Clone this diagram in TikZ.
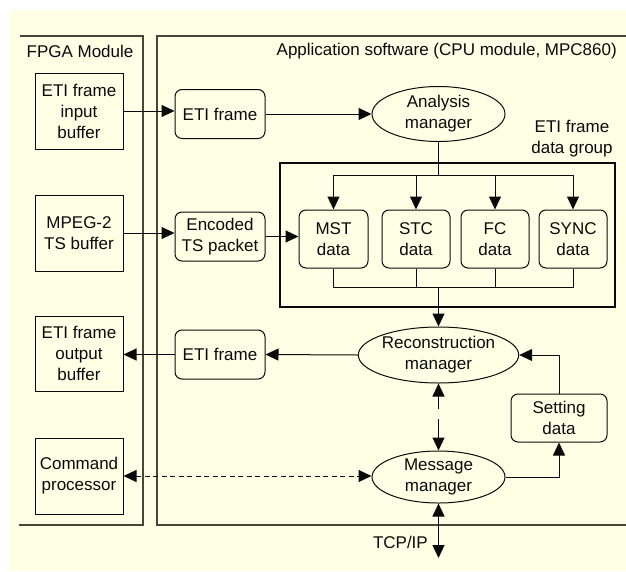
\documentclass[tikz,border=0pt]{standalone}
\usepackage{fontspec}
\setmainfont{Liberation Sans}
\usetikzlibrary{arrows.meta,shapes.geometric}
\definecolor{bgc}{RGB}{255,255,229}
\definecolor{panelc}{RGB}{70,70,58}
\definecolor{ink}{RGB}{10,10,10}
\tikzset{
  txt/.style={font=\fontsize{17}{21}\selectfont, text=ink, align=center, inner sep=0pt},
  sqbox/.style={txt, draw=ink, line width=1pt, minimum width=88pt, minimum height=76pt},
  rbox/.style={txt, draw=ink, line width=1pt, rounded corners=7pt},
  ell/.style={txt, draw=ink, line width=1pt, ellipse, minimum width=133pt, minimum height=55pt},
  conn/.style={draw=ink, line width=1pt},
  arr/.style={conn, -{Triangle[length=13pt,width=12pt]}},
  arrb/.style={conn, {Triangle[length=13pt,width=12pt]}-{Triangle[length=13pt,width=12pt]}},
  panel/.style={draw=panelc, line width=1.1pt}
}
\begin{document}
\begin{tikzpicture}[x=1pt,y=-1pt]
\useasboundingbox (0,0) rectangle (626,571);
\fill[bgc] (9,10) rectangle (626,571);
% panels
\draw[panel] (20,36) -- (143,36) -- (143,525) -- (19,525);
\draw[panel] (626,36) -- (157,36) -- (157,525) -- (626,525);
\node[txt] (fpgalbl) at (80,51) {FPGA Module};
\node[txt, anchor=east] (applbl) at (617,51) {Application software (CPU module, MPC860)};
% FPGA boxes
\node[sqbox] (inbuf) at (79,111) {ETI frame\\input\\buffer};
\node[sqbox] (mpeg) at (79,233) {MPEG-2\\TS buffer};
\node[sqbox, minimum height=75pt] (outbuf) at (79,353.5) {ETI frame\\output\\buffer};
\node[sqbox] (cmd) at (79,476) {Command\\processor};
% app nodes
\node[rbox, minimum width=90pt, minimum height=49pt] (eti1) at (220,114) {ETI frame};
\node[ell] (analysis) at (438.5,114) {Analysis\\manager};
\node[txt] (grplbl) at (572,139) {ETI frame\\data group};
\node[draw=ink, line width=2.6pt, minimum width=335pt, minimum height=144pt, inner sep=0pt] (group) at (447.5,235) {};
\node[rbox, minimum width=90pt, minimum height=49pt] (encoded) at (220,236.5) {Encoded\\TS packet};
\node[rbox, minimum width=69pt, minimum height=58pt] (mst) at (333.5,239) {MST\\data};
\node[rbox, minimum width=68pt, minimum height=58pt] (stc) at (416,239) {STC\\data};
\node[rbox, minimum width=68pt, minimum height=58pt] (fc) at (495,239) {FC\\data};
\node[rbox, minimum width=68pt, minimum height=58pt] (sync) at (573,239) {SYNC\\data};
\node[ell, minimum height=56pt] (recon) at (438.5,355) {Reconstruction\\manager};
\node[rbox, minimum width=90pt, minimum height=49pt] (eti2) at (220,354.5) {ETI frame};
\node[rbox, minimum width=96pt, minimum height=48pt] (setting) at (559,418) {Setting\\data};
\node[ell, minimum height=52pt] (msg) at (438.5,477) {Message\\manager};
\node[txt, anchor=east] (tcplbl) at (428,542) {TCP/IP};
\coordinate (split) at (438.5,175);
\coordinate (join) at (438.5,287);
\coordinate (tcp) at (438.5,558);
% connectors
\draw[arr] (inbuf.east) -- (inbuf.east -| eti1.west);
\draw[arr] (eti1.east) -- (analysis.west);
\draw[conn] (analysis.south) -- (split);
\draw[arr] (split) -| (mst.north);
\draw[arr] (split) -| (stc.north);
\draw[arr] (split) -| (fc.north);
\draw[arr] (split) -| (sync.north);
\draw[arr] (mpeg.east) -- (mpeg.east -| encoded.west);
\draw[arr] (encoded.east) -- (encoded.east -| mst.west);
\draw[conn] (mst.south) |- (join);
\draw[conn] (stc.south) |- (join);
\draw[conn] (fc.south) |- (join);
\draw[conn] (sync.south) |- (join);
\draw[arr] (join) -- (recon.north);
\draw[arr] (recon.west) -- (eti2.east);
\draw[arr] (eti2.west) -- (eti2.west -| outbuf.east);
\draw[arr] (setting.north) |- (recon.east);
\draw[arr] (msg.east) -| (setting.south);
\draw[arrb, dash pattern=on 13pt off 10pt on 40pt] (recon.south) -- (msg.north);
\draw[arrb, dash pattern=on 5pt off 3.5pt] (cmd.east) -- (cmd.east -| msg.west);
\draw[arrb] (msg.south) -- (tcp);
\end{tikzpicture}
\end{document}
